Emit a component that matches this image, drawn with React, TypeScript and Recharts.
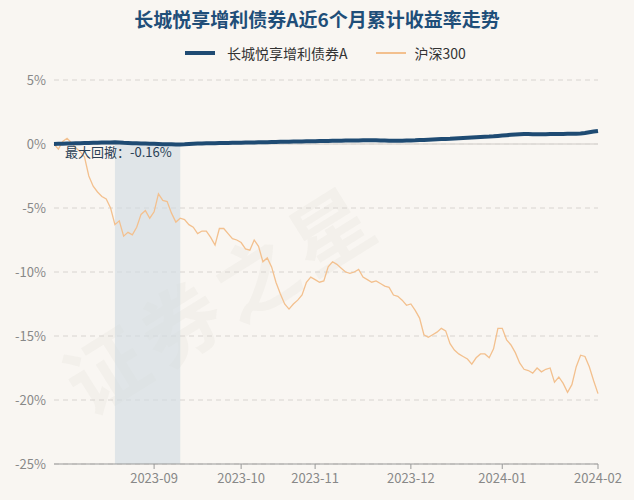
import React from 'react';
import { LineChart, Line, XAxis, YAxis, CartesianGrid, ReferenceArea, ReferenceLine } from 'recharts';

const FONT = '"Noto Sans CJK SC", "Noto Sans", sans-serif';

const TITLE = '长城悦享增利债券A近6个月累计收益率走势';
const FUND_NAME = '长城悦享增利债券A';
const INDEX_NAME = '沪深300';
const DRAWDOWN_TEXT = '最大回撤：-0.16%';
const WATERMARK = '证券之星';

// trading calendar, 2023-08-01 .. 2024-02-01
const START_DATE = '2023-08-01';
const END_DATE = '2024-02-01';
const HOLIDAYS = ['2023-09-29', '2023-10-02', '2023-10-03', '2023-10-04', '2023-10-05', '2023-10-06', '2024-01-01'];

const X_TICKS = ['2023-09-01', '2023-10-09', '2023-11-01', '2023-12-01', '2024-01-02', '2024-02-01'];
const Y_TICKS = [5, 0, -5, -10, -15, -20, -25];

// cumulative return, %
const fundValues = [
  0, 0.01, 0.02, 0.03, 0.04, 0.05, 0.06, 0.07, 0.08, 0.09, 0.1, 0.11, 0.12, 0.12,
  0.13,
  0.11, 0.09, 0.08, 0.06, 0.05, 0.04, 0.03, 0.02, 0.01, 0.0, -0.01, -0.02, -0.02, -0.03, -0.03,
  -0.02, 0.0, 0.02, 0.03, 0.04, 0.05, 0.05, 0.06, 0.07, 0.07,
  0.08, 0.09, 0.1, 0.1, 0.11, 0.12, 0.12, 0.13, 0.14, 0.14,
  0.15, 0.16, 0.17, 0.17, 0.18, 0.19, 0.19, 0.2, 0.21, 0.21,
  0.22, 0.23, 0.23, 0.24, 0.25, 0.25, 0.26, 0.27, 0.27, 0.28,
  0.28, 0.29, 0.29, 0.3, 0.29, 0.28, 0.27, 0.26, 0.25, 0.25, 0.26,
  0.27, 0.28, 0.29, 0.31, 0.32, 0.34, 0.36, 0.38, 0.39, 0.4,
  0.41, 0.43, 0.45, 0.47, 0.49, 0.51, 0.53, 0.55, 0.57, 0.58,
  0.6, 0.63, 0.66, 0.69, 0.72, 0.75, 0.77, 0.78, 0.78, 0.77,
  0.76, 0.76, 0.77, 0.78, 0.78, 0.79, 0.79, 0.8, 0.8, 0.81,
  0.82, 0.86, 0.92, 0.97, 1.02,
];

const hs300Values = [
  0, -0.4, 0.2, 0.45, 0.1, -0.3, -0.6, -1.0, -2.5, -3.3,
  -3.75, -4.1, -4.3, -5.0, -6.3, -6.0, -7.2, -6.9, -7.1, -6.5,
  -5.5, -5.2, -5.8, -5.3, -3.9, -4.4, -4.5, -5.4, -6.1, -5.8,
  -5.9, -6.3, -6.5, -7.0, -6.8, -6.8, -7.3, -7.9, -6.6, -6.6,
  -7.0, -7.4, -7.5, -7.7, -8.2, -8.3, -7.5, -8.0, -9.2, -8.9,
  -9.6, -10.8, -11.7, -12.5, -12.9, -12.5, -12.2, -11.8, -10.8, -10.4,
  -10.6, -10.8, -10.7, -9.6, -9.2, -9.4, -9.7, -10.0, -10.1, -10.0,
  -9.8, -10.4, -10.6, -10.8, -10.7, -10.9, -11.1, -11.2, -11.8, -11.9,
  -12.2, -12.6, -12.5, -13.0, -13.6, -14.9, -15.1, -14.9, -14.7, -14.4,
  -14.6, -15.6, -16.1, -16.4, -16.6, -16.8, -17.2, -16.7, -16.4, -16.4,
  -16.7, -16.0, -14.4, -14.4, -15.3, -15.7, -16.3, -17.1, -17.6, -17.7,
  -17.9, -17.5, -17.8, -17.6, -17.5, -18.6, -18.2, -18.7, -19.4, -18.8,
  -17.4, -16.5, -16.6, -17.4, -18.5, -19.5,
];

// max drawdown period (index into trading days)
const DD_START = 14;
const DD_END = 29;

function tradingDays(start: string, end: string, holidays: string[]) {
  const out: string[] = [];
  const d = new Date(start + 'T00:00:00Z');
  const last = new Date(end + 'T00:00:00Z');
  while (d <= last) {
    const s = d.toISOString().slice(0, 10);
    const wd = d.getUTCDay();
    if (wd !== 0 && wd !== 6 && !holidays.includes(s)) out.push(s);
    d.setUTCDate(d.getUTCDate() + 1);
  }
  return out;
}

const dates = tradingDays(START_DATE, END_DATE, HOLIDAYS);
const data = dates.map((date, i) => ({ date, fund: fundValues[i], hs300: hs300Values[i] }));

export default function App() {
  return (
    <div style={{ position: 'absolute', left: 0, top: 0, width: 634, height: 500, background: '#f9f6f2', overflow: 'hidden', fontFamily: FONT }}>
      <div
        style={{
          position: 'absolute', left: 70, top: 330, fontSize: 80, fontWeight: 700,
          color: 'rgba(120,110,100,0.045)', transform: 'rotate(-32deg)', transformOrigin: 'left center',
          whiteSpace: 'nowrap', letterSpacing: 8,
        }}
      >
        {WATERMARK}
      </div>
      <div style={{ position: 'absolute', left: 0, top: 5, width: 634, textAlign: 'center', fontSize: 19, fontWeight: 700, color: '#1f4e79' }}>
        {TITLE}
      </div>
      <div style={{ position: 'absolute', left: 185, top: 43, fontSize: 14, color: '#333', display: 'flex', alignItems: 'center', height: 20 }}>
        <span style={{ display: 'inline-block', width: 30, height: 4, background: '#1f4b73', marginRight: 12 }} />
        <span>{FUND_NAME}</span>
        <span style={{ display: 'inline-block', width: 30, height: 1.5, background: '#f3c08e', marginLeft: 28, marginRight: 9 }} />
        <span>{INDEX_NAME}</span>
      </div>
      <div style={{ position: 'absolute', left: 0, top: 0 }}>
        <LineChart width={634} height={500} data={data} margin={{ top: 80, right: 36, bottom: 6, left: 8 }}>
          <CartesianGrid vertical={false} stroke="#d8d4d0" strokeDasharray="5 4" />
          <ReferenceArea x1={dates[DD_START]} x2={dates[DD_END]} y1={-25} y2={0} fill="#d3dbe2" fillOpacity={0.65} stroke="none" />
          <ReferenceLine y={0} stroke="#dcd8d4" strokeWidth={1.5} />
          <XAxis
            dataKey="date"
            ticks={X_TICKS}
            interval={0}
            tickFormatter={(d: string) => d.slice(0, 7)}
            height={30}
            tickSize={5}
            tickMargin={5}
            axisLine={{ stroke: '#999' }}
            tickLine={{ stroke: '#999' }}
            tick={{ fill: '#888', fontSize: 13, fontFamily: FONT }}
          />
          <YAxis
            domain={[-25, 5]}
            ticks={Y_TICKS}
            width={46}
            axisLine={false}
            tickLine={false}
            tickFormatter={(v: number) => `${v}%`}
            tick={{ fill: '#888', fontSize: 13, fontFamily: FONT }}
          />
          <Line type="linear" dataKey="hs300" stroke="#f3c08e" strokeWidth={1.3} dot={false} isAnimationActive={false} />
          <Line type="linear" dataKey="fund" stroke="#1f4b73" strokeWidth={4} dot={false} isAnimationActive={false} />
        </LineChart>
      </div>
      <div style={{ position: 'absolute', left: 65, top: 142, fontSize: 13, color: '#2a3f55' }}>{DRAWDOWN_TEXT}</div>
    </div>
  );
}
